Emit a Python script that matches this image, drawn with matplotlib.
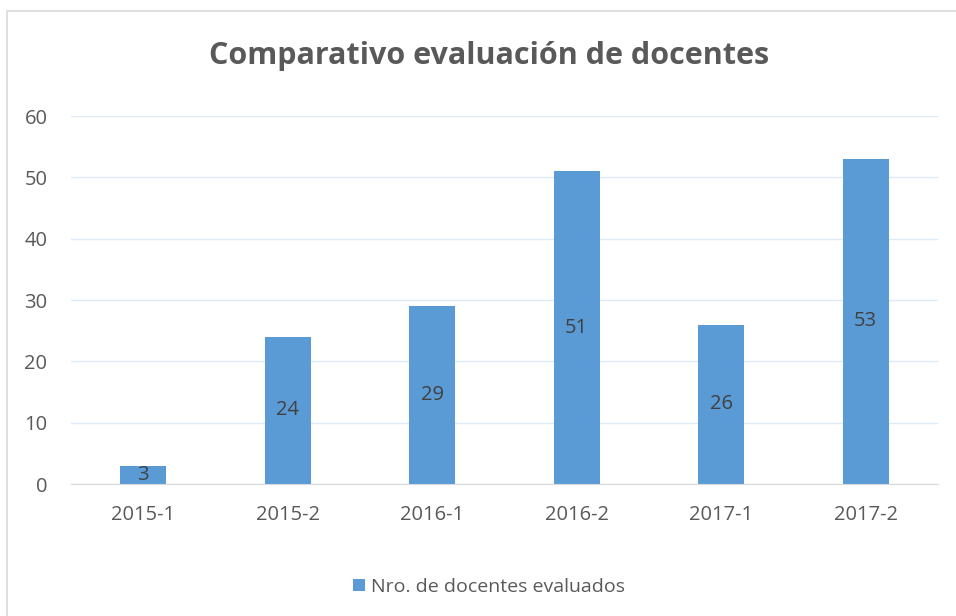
import matplotlib.pyplot as plt
from matplotlib.patches import Rectangle

categories = ["2015-1", "2015-2", "2016-1", "2016-2", "2017-1", "2017-2"]
evaluados = [3, 24, 29, 51, 26, 53]
y_ticks = [0, 10, 20, 30, 40, 50, 60]

plt.rcParams['font.family'] = ['Open Sans', 'DejaVu Sans']

W, H = 956, 616
fig = plt.figure(figsize=(W / 100, H / 100), dpi=100)
ax = fig.add_axes([71 / W, 1 - 484 / H, (938 - 71) / W, (484 - 116) / H])

x = list(range(len(categories)))
bars = ax.bar(x, evaluados, width=0.32, color="#5B9BD5", zorder=3,
              label="Nro. de docentes evaluados")
for b, v in zip(bars, evaluados):
    ax.text(b.get_x() + b.get_width() / 2, v / 2, str(v), ha="center", va="center",
            fontsize=14.5, color="#404040", zorder=4)

ax.set_xlim(-0.5, len(categories) - 0.5)
ax.set_ylim(0, 60)
ax.set_yticks(y_ticks)
ax.set_xticks(x)
ax.set_xticklabels(categories)
ax.tick_params(axis="both", length=0, labelsize=14.5, colors="#595959")
ax.tick_params(axis="x", pad=15)
ax.tick_params(axis="y", pad=17)
ax.grid(axis="y", color="#DEEBF7", linewidth=1, zorder=0)
for s in ["top", "right", "left"]:
    ax.spines[s].set_visible(False)
ax.spines["bottom"].set_color("#D9D9D9")
ax.spines["bottom"].set_zorder(5)

fig.text(489 / W, 1 - 56 / H, "Comparativo evaluación de docentes", ha="center", va="center",
         fontsize=22, fontweight="bold", color="#595959")

fig.legend(loc="center", bbox_to_anchor=(489 / W, 1 - 587 / H), frameon=False,
           fontsize=14, labelcolor="#595959", handlelength=0.6, handleheight=0.6,
           handletextpad=0.3)

fig.patches.append(Rectangle((7 / W, -0.1), 1.1, 1 - 11 / H + 0.1, transform=fig.transFigure,
                             fill=False, edgecolor="#D9D9D9", linewidth=1.2))

fig.savefig("out.png", dpi=100)
